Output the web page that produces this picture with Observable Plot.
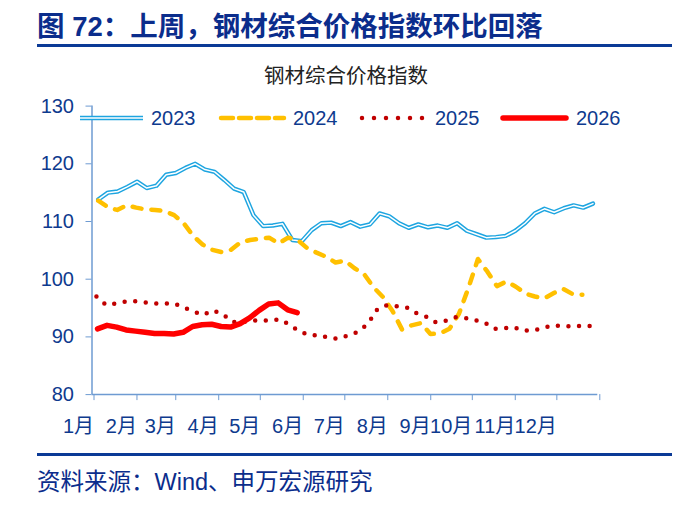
<!DOCTYPE html>
<html><head><meta charset="utf-8">
<script src="https://cdn.jsdelivr.net/npm/d3@7"></script>
<script src="https://cdn.jsdelivr.net/npm/@observablehq/plot@0.6"></script>
<style>
body{margin:0;background:#fff;}
#page{position:relative;width:688px;height:513px;overflow:hidden;font-family:"Liberation Sans","Noto Sans CJK SC",sans-serif;}
#title{position:absolute;left:37px;top:11px;font-size:27.5px;font-weight:bold;color:#0B2D8C;white-space:nowrap;line-height:32px;}
.rule{position:absolute;left:37px;width:635px;height:3px;background:#0B3A96;}
#ctitle{position:absolute;left:0;width:688px;text-align:center;top:62px;font-size:20.5px;color:#222;line-height:28px;padding-left:2px;}
#chart{position:absolute;left:0;top:90px;}
#legend{position:absolute;left:0;top:106px;width:688px;height:24px;}
.li{position:absolute;top:0;height:24px;}
.lt{position:absolute;top:0;font-size:20px;line-height:24px;color:#0E3A8E;}
#caption{position:absolute;left:37px;top:467px;font-size:23.5px;line-height:30px;color:#0B2D8C;white-space:nowrap;}
</style></head>
<body><div id="page">
<div id="title">图 72：上周，钢材综合价格指数环比回落</div>
<div class="rule" style="top:44px"></div>
<div id="ctitle">钢材综合价格指数</div>
<div id="chart"></div>
<div id="legend"></div>
<div class="rule" style="top:453px;height:2.5px"></div>
<div id="caption">资料来源：Wind、申万宏源研究</div>
</div>
<script>
// ---- data ----
const monthStarts = [0,31,59,90,120,151,181,212,243,273,304,334,365];
const monthLabels = ["1月","2月","3月","4月","5月","6月","7月","8月","9月","10月","11月","12月"];
const yTicks = [80,90,100,110,120,130];
const years = ["2023","2024","2025","2026"];
const startDay = {"2023":4.5,"2024":4.5,"2025":3.2,"2026":4};
const v2023 = [113.8,115.0,115.2,116.0,116.9,115.8,116.2,118.1,118.4,119.3,120.0,119.0,118.6,117.2,115.7,115.1,111.1,109.2,109.3,109.6,106.8,106.6,108.5,109.7,109.8,109.2,109.9,109.1,109.5,111.4,110.9,109.7,108.9,109.5,109.0,109.3,108.9,109.7,108.4,107.8,107.2,107.3,107.5,108.4,109.7,111.4,112.2,111.6,112.3,112.8,112.4,113.1];
const v2024 = [113.6,112.5,112.0,112.8,112.4,112.1,112.0,111.8,111.1,109.7,107.5,106.0,105.1,104.7,105.1,106.4,106.8,107.0,107.2,106.2,107.2,106.8,105.4,104.6,103.9,102.9,103.2,101.9,100.9,98.6,96.9,94.5,91.3,92.0,92.4,90.5,90.6,91.4,94.0,98.5,103.5,101.3,98.8,99.6,98.7,97.5,97.0,96.7,97.6,98.3,97.4,97.3];
const v2025 = [97.0,95.5,95.8,96.1,96.2,96.0,95.8,95.8,95.8,95.1,94.4,93.8,94.6,94.0,92.6,92.5,92.9,92.8,92.9,93.0,92.0,90.9,90.3,90.3,89.8,89.7,90.3,90.9,92.3,94.9,95.5,95.3,95.1,94.1,93.5,92.5,92.8,93.4,93.3,92.9,92.5,91.4,91.5,91.7,91.1,91.1,91.5,92.0,91.9,91.8,91.9,91.9];
const v2026 = [91.4,92.0,91.7,91.2,91.0,90.8,90.6,90.6,90.5,90.8,91.8,92.1,92.2,91.8,91.7,92.3,93.3,94.6,95.7,95.9,94.7,94.2];

// ---- build table ----
const series = {"2023":v2023,"2024":v2024,"2025":v2025,"2026":v2026};
const step = {"2023":7,"2024":6.85,"2025":7,"2026":6.86};
const rows = y => series[y].map((v,i)=>({day:startDay[y]+step[y]*i, value:v}));

const axisColor = "#6E9BD2";
const labelColor = "#0E3A8E";
const colors = {"2023":"#1EA5E0","2024":"#FFC000","2025":"#C00000","2026":"#FF0000"};
const labelByDay = new Map(monthStarts.slice(0,12).map((d,i)=>[d,monthLabels[i]]));

const chart = Plot.plot({
  width:688, height:355,
  marginTop:15.6, marginBottom:50.9, marginLeft:91.5, marginRight:90.7,
  x:{domain:[0,365]}, y:{domain:[80,130]},
  style:{fontFamily:'"Liberation Sans","Noto Sans CJK SC",sans-serif', fontSize:"20px", background:"transparent", overflow:"visible"},
  marks:[
    Plot.axisY({ticks:yTicks, tickSize:6, tickPadding:12, stroke:axisColor, fill:labelColor, label:null, tickFormat:d=>String(d)}),
    Plot.axisX({ticks:monthStarts, tickSize:6, tickPadding:18, stroke:axisColor, fill:labelColor, label:null, textAnchor:"end", dx:2, tickFormat:d=>labelByDay.get(d) ?? ""}),
    Plot.ruleX([0],{stroke:axisColor, strokeWidth:1.5}),
    Plot.ruleY([80],{stroke:axisColor, strokeWidth:1.5}),
    Plot.line(rows("2023"),{x:"day",y:"value",stroke:colors["2023"],strokeWidth:4.4}),
    Plot.line(rows("2023"),{x:"day",y:"value",stroke:"#fff",strokeWidth:1.5}),
    Plot.line(rows("2024"),{x:"day",y:"value",stroke:colors["2024"],strokeWidth:4.5,strokeDasharray:"9 10",strokeLinecap:"round"}),
    Plot.line(rows("2025"),{x:"day",y:"value",stroke:colors["2025"],strokeWidth:4.5,strokeDasharray:"0 10.6",strokeLinecap:"round"}),
    Plot.line(rows("2026"),{x:"day",y:"value",stroke:colors["2026"],strokeWidth:5.5,strokeLinecap:"round"})
  ]
});
document.getElementById("chart").appendChild(chart);

// ---- legend ----
const legendPos = [{sw:77,tx:151},{sw:218,tx:293},{sw:359,tx:435},{sw:500,tx:576}];
const lg = document.getElementById("legend");
years.forEach((y,i)=>{
  const p = legendPos[i];
  let line;
  if (y==="2023") line = `<line x1="3" y1="12" x2="66" y2="12" stroke="${colors[y]}" stroke-width="4.4"/><line x1="3" y1="12" x2="66" y2="12" stroke="#fff" stroke-width="1.5"/>`;
  else if (y==="2024") line = `<line x1="3" y1="12" x2="66" y2="12" stroke="${colors[y]}" stroke-width="4.5" stroke-dasharray="12 6" stroke-linecap="round"/>`;
  else if (y==="2025") line = `<line x1="3" y1="12" x2="64" y2="12" stroke="${colors[y]}" stroke-width="4.5" stroke-dasharray="0 12" stroke-linecap="round"/>`;
  else line = `<line x1="3" y1="12" x2="66" y2="12" stroke="${colors[y]}" stroke-width="5.5" stroke-linecap="round"/>`;
  lg.insertAdjacentHTML("beforeend",`<svg class="li" style="left:${p.sw}px" width="70" height="24">${line}</svg><div class="lt" style="left:${p.tx}px">${y}</div>`);
});
</script>
</body></html>
